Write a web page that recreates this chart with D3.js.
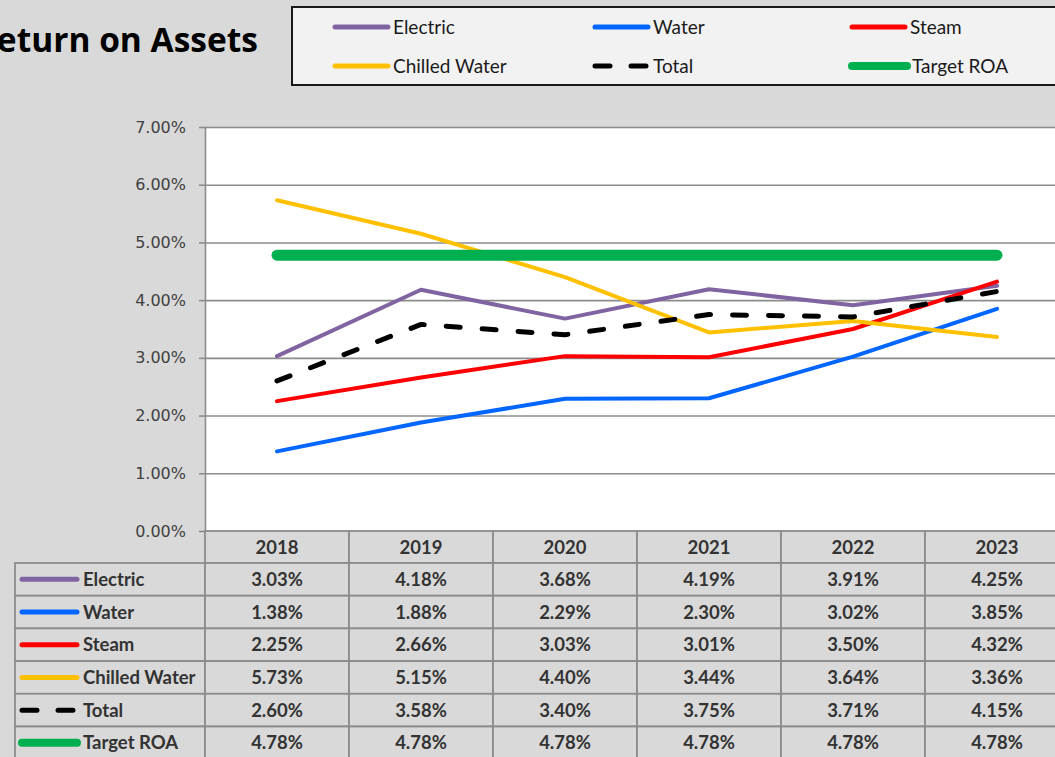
<!DOCTYPE html>
<html>
<head>
<meta charset="utf-8">
<script src="https://cdn.jsdelivr.net/npm/d3@7"></script>
<style>
  html, body { margin: 0; padding: 0; background: #d9d9d9; }
  svg { display: block; }
</style>
</head>
<body>
<svg id="chart" width="1055" height="757"></svg>
<script>
// ---- data ----
const years = ["2018", "2019", "2020", "2021", "2022", "2023"];
const seriesNames = ["Electric", "Water", "Steam", "Chilled Water", "Total", "Target ROA"];
const electric = [3.03, 4.18, 3.68, 4.19, 3.91, 4.25];
const water = [1.38, 1.88, 2.29, 2.30, 3.02, 3.85];
const steam = [2.25, 2.66, 3.03, 3.01, 3.50, 4.32];
const chilledWater = [5.73, 5.15, 4.40, 3.44, 3.64, 3.36];
const total = [2.60, 3.58, 3.40, 3.75, 3.71, 4.15];
const targetROA = [4.78, 4.78, 4.78, 4.78, 4.78, 4.78];
const yTicks = [0, 1, 2, 3, 4, 5, 6, 7];
const titleText = "Return on Assets";

// ---- styles ----
const styles = {
  "Electric":      { color: "#8064A2", width: 4,  dash: null, legendW: 5 },
  "Water":         { color: "#0066FF", width: 4,  dash: null, legendW: 5 },
  "Steam":         { color: "#FF0000", width: 4,  dash: null, legendW: 5 },
  "Chilled Water": { color: "#FFC000", width: 4,  dash: null, legendW: 5 },
  "Total":         { color: "#000000", width: 5,  dash: "14,22", legendW: 5 },
  "Target ROA":    { color: "#00B050", width: 11, dash: null, legendW: 8 }
};
const valuesBy = {
  "Electric": electric, "Water": water, "Steam": steam,
  "Chilled Water": chilledWater, "Total": total, "Target ROA": targetROA
};

const W = 1055, H = 757;
const svg = d3.select("#chart");

svg.append("rect").attr("x", 0).attr("y", 0).attr("width", W).attr("height", H).attr("fill", "#d9d9d9");

// scales
const x = d3.scaleBand().domain(years).range([205, 1069]).padding(0);
const y = d3.scaleLinear().domain([0, 7]).range([531, 127]);
const cx = d => x(d) + x.bandwidth() / 2;

// plot area
svg.append("rect")
  .attr("x", 205).attr("y", y(7))
  .attr("width", W - 205).attr("height", y(0) - y(7))
  .attr("fill", "#ffffff");

// gridlines
const grid = svg.append("g").attr("transform", "translate(205,0)")
  .call(d3.axisLeft(y).tickValues(yTicks).tickSize(-(W - 205)).tickFormat(""));
grid.select(".domain").remove();
grid.selectAll(".tick line").attr("stroke", "#8c8c8c").attr("stroke-width", 1.6);

// y axis with tick labels
const yAxis = svg.append("g").attr("transform", "translate(205,0)")
  .call(d3.axisLeft(y).tickValues(yTicks).tickSize(6).tickSizeOuter(0)
    .tickFormat(d => d.toFixed(2) + "%").tickPadding(13));
yAxis.select(".domain").attr("stroke", "#8c8c8c").attr("stroke-width", 1.6);
yAxis.selectAll(".tick line").attr("stroke", "#8c8c8c").attr("stroke-width", 1.6);
yAxis.selectAll(".tick text")
  .attr("font-family", "DejaVu Sans, sans-serif")
  .attr("font-size", 16)
  .attr("fill", "#404040");

// lines
const line = d3.line()
  .x((d, i) => cx(years[i]))
  .y(d => y(d));

seriesNames.forEach(name => {
  const s = styles[name];
  svg.append("path")
    .datum(valuesBy[name])
    .attr("d", line)
    .attr("fill", "none")
    .attr("stroke", s.color)
    .attr("stroke-width", s.width)
    .attr("stroke-linejoin", "round")
    .attr("stroke-linecap", "round")
    .attr("stroke-dasharray", s.dash);
});

// ---- data table ----
const rowY = d3.scaleBand().domain(seriesNames).range([563, 563 + 6 * 32.7]);
const gridColor = "#8c8c8c";
const table = svg.append("g");

// header cells
years.forEach(yr => {
  table.append("rect")
    .attr("x", x(yr)).attr("y", 531)
    .attr("width", x.bandwidth()).attr("height", 563 - 531)
    .attr("fill", "#d9d9d9").attr("stroke", gridColor).attr("stroke-width", 1.8);
  table.append("text")
    .attr("x", cx(yr)).attr("y", 547 + 6.5)
    .attr("text-anchor", "middle")
    .attr("font-family", "Lato, sans-serif")
    .attr("font-weight", "bold")
    .attr("font-size", 18.5)
    .attr("fill", "#333333")
    .text(yr);
});

seriesNames.forEach(name => {
  const s = styles[name];
  const top = rowY(name), h = rowY.bandwidth();
  const mid = top + h / 2;
  // label cell
  table.append("rect")
    .attr("x", 15).attr("y", top).attr("width", 205 - 15).attr("height", h)
    .attr("fill", "#d9d9d9").attr("stroke", gridColor).attr("stroke-width", 1.8);
  table.append("line")
    .attr("x1", 22).attr("x2", 77).attr("y1", mid).attr("y2", mid)
    .attr("stroke", s.color).attr("stroke-width", s.legendW)
    .attr("stroke-linecap", "round")
    .attr("stroke-dasharray", s.dash ? "15,21" : null);
  table.append("text")
    .attr("x", 83).attr("y", mid + 6.5)
    .attr("font-family", "Lato, sans-serif")
    .attr("font-weight", "bold")
    .attr("font-size", 18.5)
    .attr("fill", "#333333")
    .text(name);
  // value cells
  valuesBy[name].forEach((v, i) => {
    const yr = years[i];
    table.append("rect")
      .attr("x", x(yr)).attr("y", top).attr("width", x.bandwidth()).attr("height", h)
      .attr("fill", "#d9d9d9").attr("stroke", gridColor).attr("stroke-width", 1.8);
    table.append("text")
      .attr("x", cx(yr)).attr("y", mid + 6.5)
      .attr("text-anchor", "middle")
      .attr("font-family", "Lato, sans-serif")
      .attr("font-weight", "bold")
      .attr("font-size", 18.5)
      .attr("fill", "#333333")
      .text(v.toFixed(2) + "%");
  });
});

// ---- title ----
svg.append("text")
  .attr("x", 258).attr("y", 52)
  .attr("text-anchor", "end")
  .attr("font-family", "Open Sans, sans-serif")
  .attr("font-weight", "bold")
  .attr("font-size", 33.5)
  .attr("fill", "#000000")
  .text(titleText);

// ---- legend ----
const legend = svg.append("g");
legend.append("rect")
  .attr("x", 292).attr("y", 7).attr("width", 820).attr("height", 78)
  .attr("fill", "#f2f2f2").attr("stroke", "#1a1a1a").attr("stroke-width", 2);

const legCols = [333, 593, 850];
const legRows = [27, 66];
seriesNames.forEach((name, i) => {
  const s = styles[name];
  const lx = legCols[i % 3], ly = legRows[Math.floor(i / 3)];
  const len = name === "Target ROA" ? 59 : 57;
  legend.append("line")
    .attr("x1", lx + 2).attr("x2", lx + len - 2).attr("y1", ly).attr("y2", ly)
    .attr("stroke", s.color).attr("stroke-width", s.legendW)
    .attr("stroke-linecap", "round")
    .attr("stroke-dasharray", s.dash ? "15,21" : null);
  legend.append("text")
    .attr("x", lx + len + 3).attr("y", ly + 6.5)
    .attr("font-family", "Lato, sans-serif")
    .attr("font-size", 19)
    .attr("fill", "#1a1a1a")
    .text(name);
});
</script>
</body>
</html>
